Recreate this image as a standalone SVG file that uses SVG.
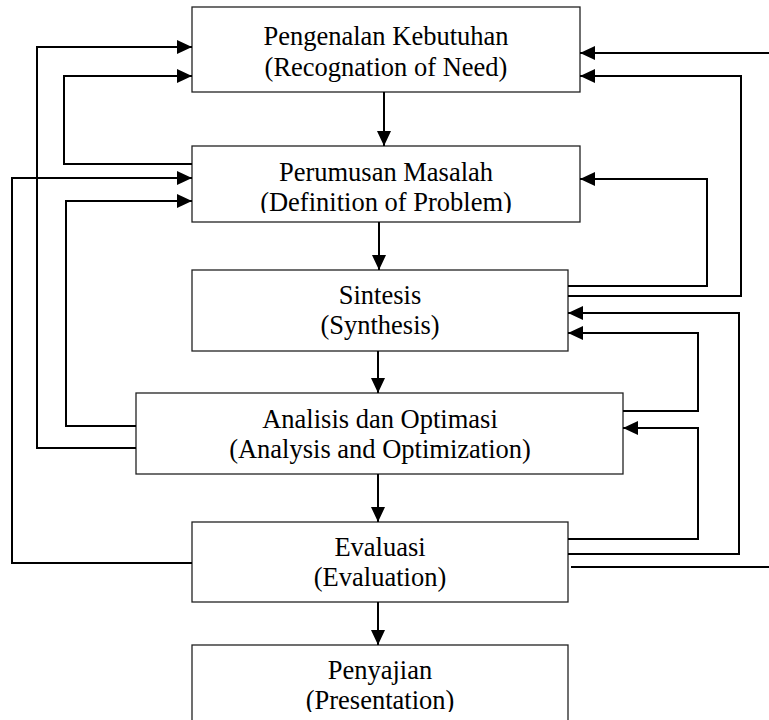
<svg xmlns="http://www.w3.org/2000/svg" width="769" height="720" viewBox="0 0 769 720">
  <style>
    .box { fill: #ffffff; stroke: #222222; stroke-width: 1.3; }
    .lbl { font-family: "Liberation Serif", "Times New Roman", serif; font-size: 26.5px; fill: #000000; text-anchor: middle; }
    .conn { fill: none; stroke: #000000; stroke-width: 2; }
    .arr { marker-end: url(#ah); }
  </style>
  <defs>
    <marker id="ah" markerUnits="userSpaceOnUse" markerWidth="15" markerHeight="14" refX="15" refY="7" orient="auto">
      <path d="M0,0 L15,7 L0,14 z" fill="#000000"/>
    </marker>
    <clipPath id="clip2"><rect x="192" y="146" width="388" height="67"/></clipPath>
    <clipPath id="clip6"><rect x="192" y="645" width="376" height="67"/></clipPath>
  </defs>
  <rect width="769" height="720" fill="#ffffff"/>

  <g id="node-pengenalan">
    <rect class="box" x="192" y="7" width="388" height="85"/>
    <text class="lbl" x="386" y="45">Pengenalan Kebutuhan</text>
    <text class="lbl" x="386" y="75.5">(Recognation of Need)</text>
  </g>
  <g id="node-perumusan">
    <rect class="box" x="192" y="146" width="388" height="76"/>
    <g clip-path="url(#clip2)">
      <text class="lbl" x="386" y="181">Perumusan Masalah</text>
      <text class="lbl" x="386" y="211">(Definition of Problem)</text>
    </g>
  </g>
  <g id="node-sintesis">
    <rect class="box" x="192" y="270" width="376" height="81"/>
    <text class="lbl" x="380" y="303.5">Sintesis</text>
    <text class="lbl" x="380" y="333.5">(Synthesis)</text>
  </g>
  <g id="node-analisis">
    <rect class="box" x="136" y="393" width="487" height="81"/>
    <text class="lbl" x="380" y="428">Analisis dan Optimasi</text>
    <text class="lbl" x="380" y="458">(Analysis and Optimization)</text>
  </g>
  <g id="node-evaluasi">
    <rect class="box" x="192" y="522" width="376" height="80"/>
    <text class="lbl" x="380" y="556">Evaluasi</text>
    <text class="lbl" x="380" y="585.5">(Evaluation)</text>
  </g>
  <g id="node-penyajian">
    <rect class="box" x="192" y="645" width="376" height="90"/>
    <g clip-path="url(#clip6)">
      <text class="lbl" x="380" y="679">Penyajian</text>
      <text class="lbl" x="380" y="709">(Presentation)</text>
    </g>
  </g>

  <g id="connectors">
    <!-- main flow -->
    <path class="conn arr" d="M384,92 V146"/>
    <path class="conn arr" d="M379,222 V270"/>
    <path class="conn arr" d="M378,351 V393"/>
    <path class="conn arr" d="M378,474 V522"/>
    <path class="conn arr" d="M378,602 V645"/>
    <!-- left feedback -->
    <path class="conn arr" d="M136,448 H37 V47 H192"/>
    <path class="conn arr" d="M192,164 H64 V76 H192"/>
    <path class="conn arr" d="M192,563 H12 V178 H192"/>
    <path class="conn arr" d="M136,426 H66 V201 H192"/>
    <!-- right feedback -->
    <path class="conn arr" d="M769,53 H580"/>
    <path class="conn arr" d="M568,296 H741 V76 H580"/>
    <path class="conn arr" d="M568,286 H707 V179 H580"/>
    <path class="conn arr" d="M568,554 H739 V313 H568"/>
    <path class="conn arr" d="M623,411 H698 V333 H568"/>
    <path class="conn arr" d="M568,539 H698 V428 H623"/>
    <path class="conn" d="M571,567 H769"/>
  </g>
</svg>
